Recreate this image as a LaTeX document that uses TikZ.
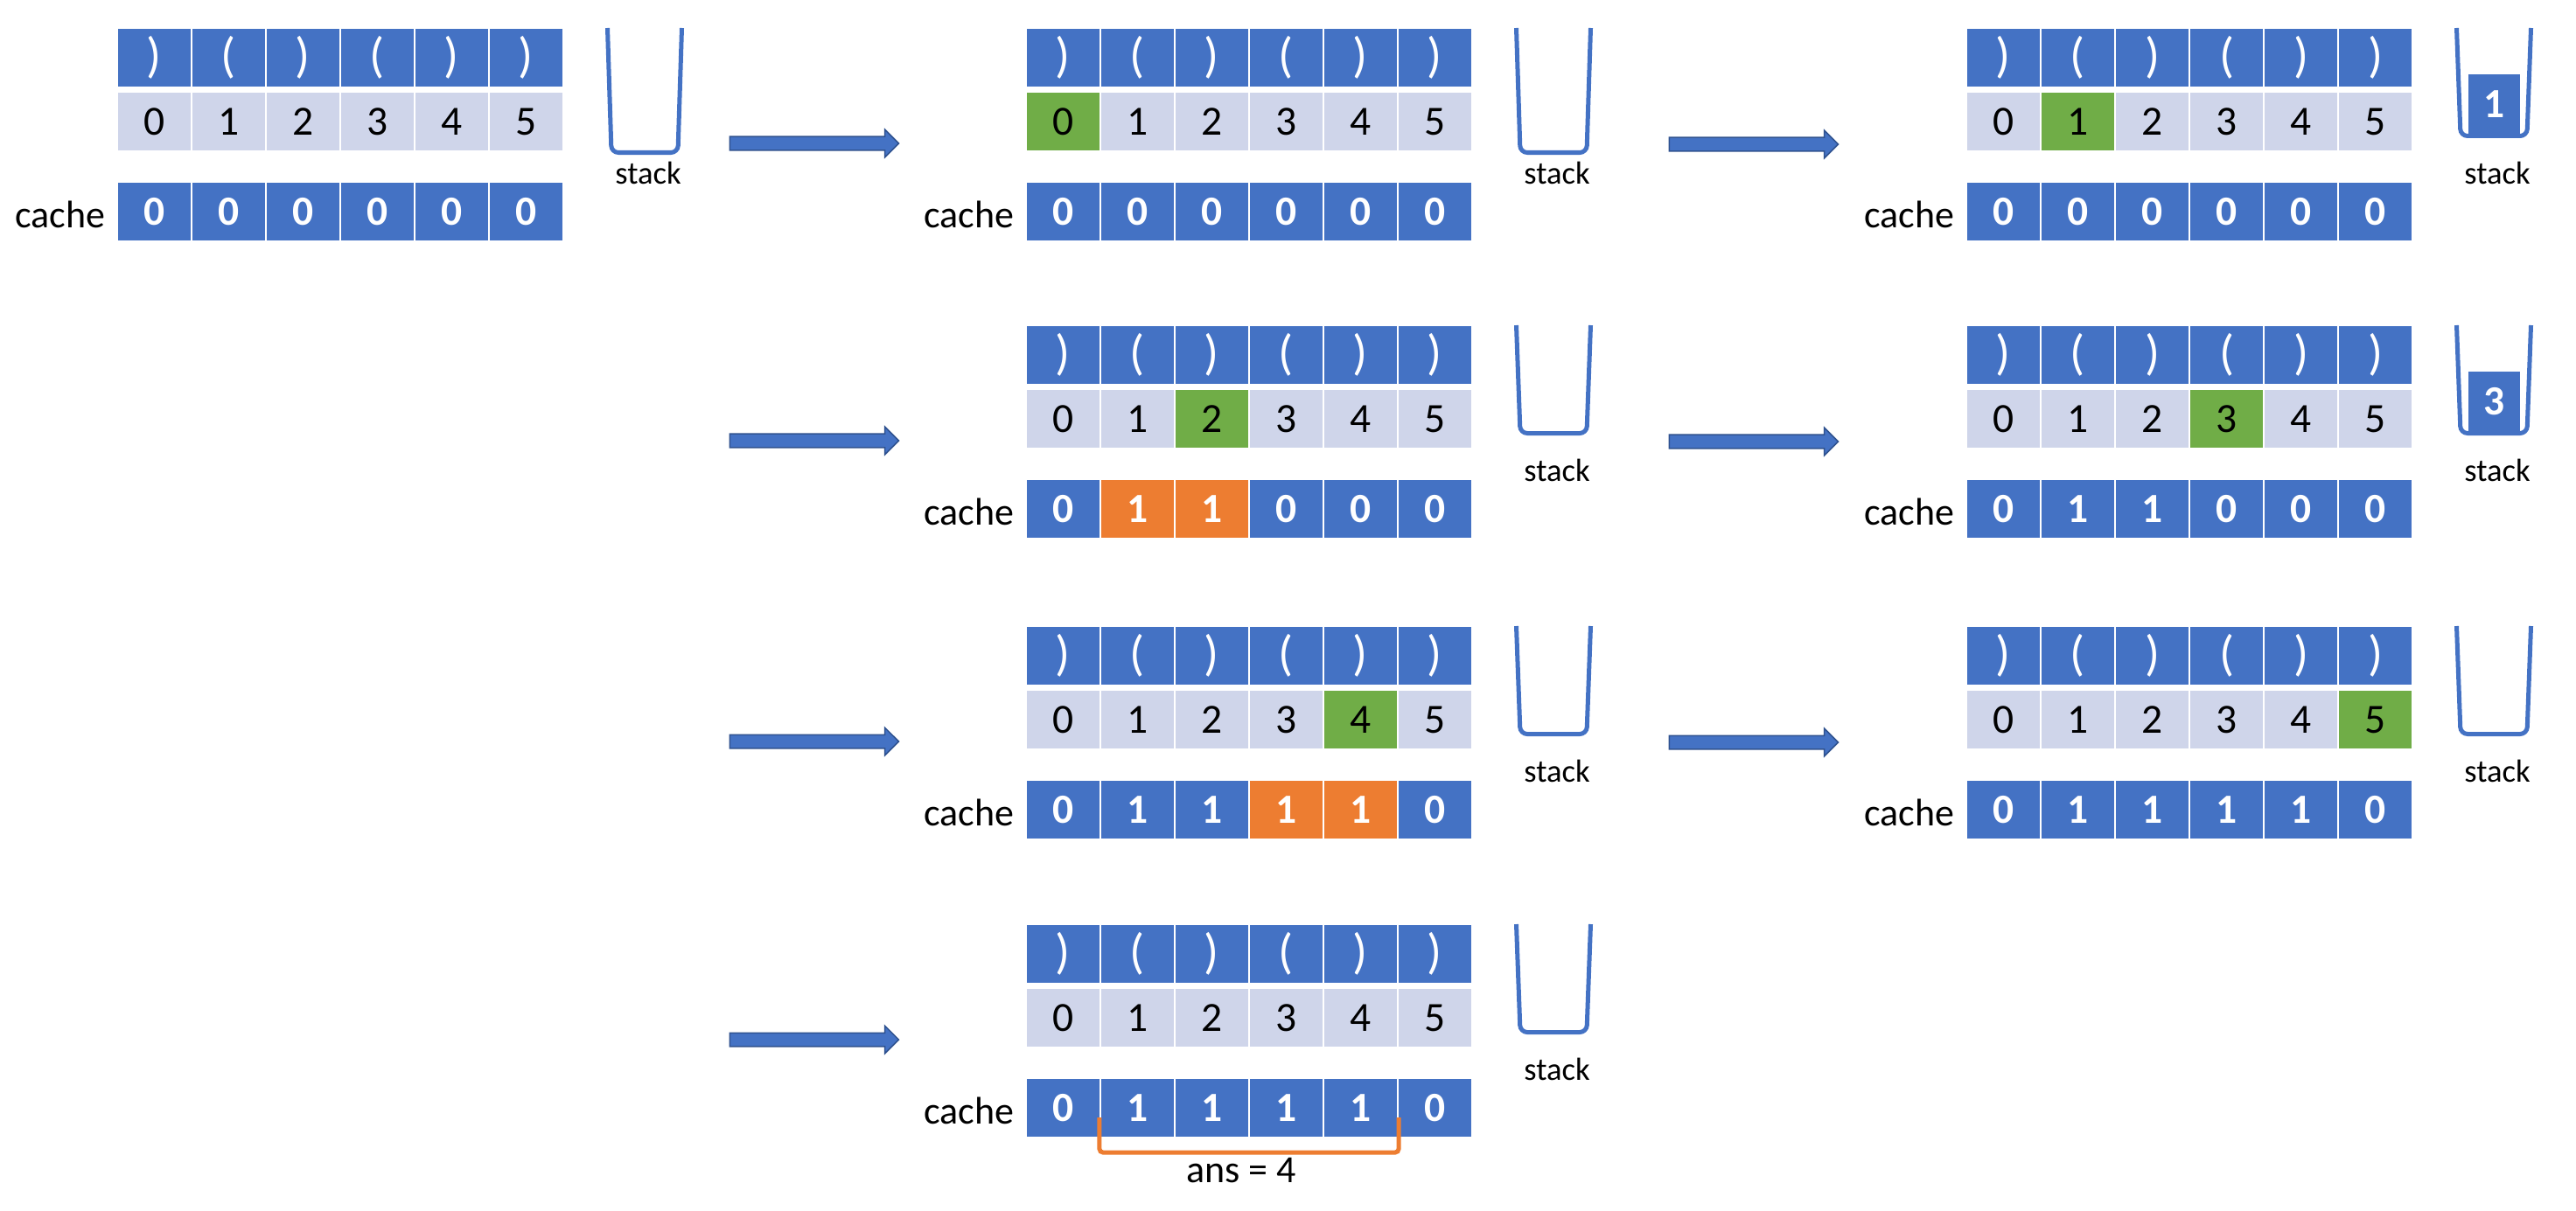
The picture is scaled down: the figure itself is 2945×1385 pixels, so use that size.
\documentclass[tikz,border=0pt]{standalone}
\usepackage{fontspec}
\setmainfont{Carlito}
\usetikzlibrary{shapes.arrows}

\definecolor{cellblue}{HTML}{4472C4}
\definecolor{cellgray}{HTML}{CFD5EA}
\definecolor{cellgreen}{HTML}{70AD47}
\definecolor{cellorange}{HTML}{ED7D31}
\definecolor{arrowedge}{HTML}{2F528F}

\tikzset{
  arrcell/.style={minimum width=0.85cm, minimum height=0.68cm, inner sep=0pt,
    draw=white, line width=0.02cm, font=\fontsize{13.5}{16}\selectfont},
  parencell/.style={arrcell, fill=cellblue, text=white,
    font=\fontsize{16}{18}\selectfont},
  idxcell/.style={arrcell, text=black},
  cachecell/.style={arrcell, text=white, font=\fontsize{13.5}{16}\selectfont\bfseries},
  sidetext/.style={inner sep=0pt, font=\fontsize{12.5}{15}\selectfont},
  stacktext/.style={inner sep=0pt, font=\fontsize{10.4}{12}\selectfont},
  cupline/.style={draw=cellblue, line width=0.05cm, rounded corners=0.08cm},
  stackitem/.style={fill=cellblue, minimum width=0.59cm, minimum height=0.68cm,
    inner sep=0pt, text=white, font=\fontsize{13.5}{16}\selectfont\bfseries},
  steparrow/.style={single arrow, fill=cellblue, draw=arrowedge, line width=0.015cm,
    minimum height=1.93cm, inner xsep=0pt, inner ysep=0.07cm,
    single arrow head extend=0.08cm},
  ansbracket/.style={draw=cellorange, line width=0.05cm, rounded corners=0.04cm},
}

% one step: string, indices, cache and stack
% #1 name, #2 x, #3 y, #4 current index, #5 cache value/colour, #6 stack height, #7 stack top
\newcommand{\arraypanel}[7]{%
  \foreach \k in {0,...,5} {
    \node[parencell] (#1-p\k) at ({#2+85*\k+42.5},{#3+34})
      {\ifnum\k=1 (\else\ifnum\k=3 (\else)\fi\fi};
    \ifnum\k=#4 \def\idxfill{cellgreen}\else\def\idxfill{cellgray}\fi
    \node[idxcell, fill=\idxfill] (#1-i\k) at ({#2+85*\k+42.5},{#3+107}) {\k};
  }
  \foreach \v/\c [count=\k from 0] in {#5} {
    \node[cachecell, fill=cell\c] (#1-c\k) at ({#2+85*\k+42.5},{#3+210}) {\v};
  }
  \node[sidetext, anchor=east] (#1-cache) at ([xshift=-0.12cm, yshift=-0.03cm]#1-c0.west) {cache};
  \draw[cupline] ({#2+560.5},#3) -- ({#2+565},{#3+#6-2.5})
    -- ({#2+641},{#3+#6-2.5}) -- ({#2+645.5},#3);
  \node[stacktext] (#1-stack) at ({#2+607},{#3+166}) {stack};
  \if\relax\detokenize{#7}\relax\else
    \node[stackitem] (#1-top) at ({#2+603},{#3+#6-39}) {#7};
  \fi
}

\begin{document}
\begin{tikzpicture}[x=0.01cm, y=-0.01cm]

    \useasboundingbox (0,0) rectangle (2945,1385);

    % start
    \arraypanel{A1}{134}{32}{-1}{0/blue,0/blue,0/blue,0/blue,0/blue,0/blue}{145}{}

    % i = 0
    \node[steparrow] (arrA1) at (927,164) {};
    \arraypanel{B1}{1173}{32}{0}{0/blue,0/blue,0/blue,0/blue,0/blue,0/blue}{145}{}

    % i = 1, push
    \node[steparrow] (arrB1) at (2001,165) {};
    \arraypanel{C1}{2248}{32}{1}{0/blue,0/blue,0/blue,0/blue,0/blue,0/blue}{126}{1}

    %%%%%%%%%%%%%%%%%%%%%%%%%%%%%%%%%%%%%%%%%%%%%%%%%%%%%%%%%

    % i = 2, pop
    \node[steparrow] (arrA2) at (927,504) {};
    \arraypanel{B2}{1173}{372}{2}{0/blue,1/orange,1/orange,0/blue,0/blue,0/blue}{126}{}

    % i = 3, push
    \node[steparrow] (arrB2) at (2001,505) {};
    \arraypanel{C2}{2248}{372}{3}{0/blue,1/blue,1/blue,0/blue,0/blue,0/blue}{126}{3}

    %%%%%%%%%%%%%%%%%%%%%%%%%%%%%%%%%%%%%%%%%%%%%%%%%%%%%%%%%

    % i = 4, pop
    \node[steparrow] (arrA3) at (927,848) {};
    \arraypanel{B3}{1173}{716}{4}{0/blue,1/blue,1/blue,1/orange,1/orange,0/blue}{126}{}

    % i = 5
    \node[steparrow] (arrB3) at (2001,849) {};
    \arraypanel{C3}{2248}{716}{5}{0/blue,1/blue,1/blue,1/blue,1/blue,0/blue}{126}{}

    %%%%%%%%%%%%%%%%%%%%%%%%%%%%%%%%%%%%%%%%%%%%%%%%%%%%%%%%%

    % result
    \node[steparrow] (arrA4) at (927,1189) {};
    \arraypanel{B4}{1173}{1057}{-1}{0/blue,1/blue,1/blue,1/blue,1/blue,0/blue}{126}{}
    \draw[ansbracket] ([yshift=0.24cm]B4-c1.south west) -- ([yshift=-0.16cm]B4-c1.south west)
      -- ([yshift=-0.16cm]B4-c4.south east) -- ([yshift=0.24cm]B4-c4.south east);
    \node[sidetext] (ans) at ([xshift=-0.1cm, yshift=-0.36cm]B4-c2.south east) {ans = 4};

\end{tikzpicture}
\end{document}
